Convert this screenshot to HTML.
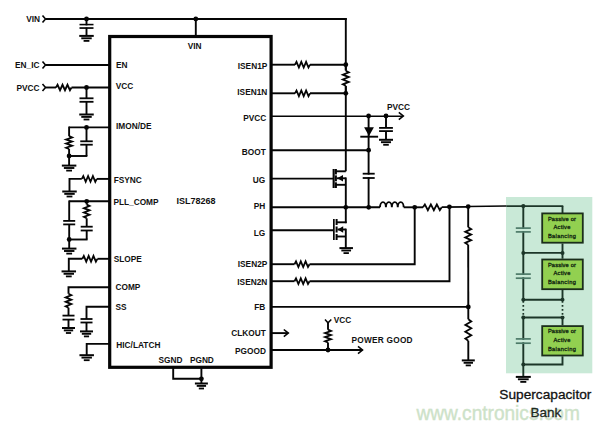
<!DOCTYPE html>
<html><head><meta charset="utf-8"><style>
html,body{margin:0;padding:0;background:#fff;}
body{width:600px;height:429px;overflow:hidden;}
svg{display:block;}
text{font-family:"Liberation Sans",sans-serif;}
</style></head><body>
<svg width="600" height="429" viewBox="0 0 600 429">
<rect width="600" height="429" fill="#fff"/>
<rect x="506" y="197" width="86.3" height="176.3" fill="#c9e9d7"/>
<rect x="109.7" y="36.5" width="161.4" height="330.8" fill="none" stroke="#050505" stroke-width="3.2"/>
<polyline points="42.5,15.4 45.5,19 42.5,22.6" fill="none" stroke="#050505" stroke-width="1.6" stroke-linejoin="miter" />
<line x1="45.5" y1="19" x2="346.75" y2="19" stroke="#050505" stroke-width="1.9" />
<circle cx="86.5" cy="19" r="2.4" fill="#050505"/>
<line x1="86.5" y1="19" x2="86.5" y2="35.9" stroke="#050505" stroke-width="1.9" />
<line x1="79.5" y1="24.7" x2="93.5" y2="24.7" stroke="#050505" stroke-width="1.8" />
<line x1="79.5" y1="28" x2="93.5" y2="28" stroke="#050505" stroke-width="1.8" />
<rect x="79" y="25.6" width="15" height="1.5" fill="#fff"/>
<line x1="79.25" y1="35.9" x2="93.75" y2="35.9" stroke="#050505" stroke-width="2.0" />
<line x1="81.28" y1="38.3" x2="91.72" y2="38.3" stroke="#050505" stroke-width="1.9" />
<line x1="83.6" y1="40.9" x2="89.4" y2="40.9" stroke="#050505" stroke-width="1.8" />
<circle cx="195.8" cy="19" r="2.4" fill="#050505"/>
<line x1="195.8" y1="19" x2="195.8" y2="36.3" stroke="#050505" stroke-width="1.9" />
<line x1="345.8" y1="18.05" x2="345.8" y2="171.3" stroke="#050505" stroke-width="1.9" />
<polyline points="42.5,61.4 45.5,65 42.5,68.6" fill="none" stroke="#050505" stroke-width="1.6" stroke-linejoin="miter" />
<line x1="45.5" y1="65" x2="109.5" y2="65" stroke="#050505" stroke-width="1.9" />
<polyline points="42.5,83.9 45.5,87.5 42.5,91.1" fill="none" stroke="#050505" stroke-width="1.6" stroke-linejoin="miter" />
<line x1="45.5" y1="87.5" x2="56" y2="87.5" stroke="#050505" stroke-width="1.9" />
<polyline points="56,87.5 57.55,84.78 60.03,90.22 62.51,84.78 64.99,90.22 67.47,84.78 69.95,90.22 71.5,87.5" fill="none" stroke="#050505" stroke-width="1.8" stroke-linejoin="miter" />
<line x1="71.5" y1="87.5" x2="109.5" y2="87.5" stroke="#050505" stroke-width="1.9" />
<circle cx="86.5" cy="87.5" r="2.4" fill="#050505"/>
<line x1="86.5" y1="87.5" x2="86.5" y2="98.3" stroke="#050505" stroke-width="1.9" />
<line x1="86.5" y1="101.8" x2="86.5" y2="114.5" stroke="#050505" stroke-width="1.9" />
<line x1="79.5" y1="98.3" x2="93.5" y2="98.3" stroke="#050505" stroke-width="1.8" />
<line x1="79.5" y1="101.8" x2="93.5" y2="101.8" stroke="#050505" stroke-width="1.8" />
<line x1="79.25" y1="114.5" x2="93.75" y2="114.5" stroke="#050505" stroke-width="2.0" />
<line x1="81.28" y1="116.9" x2="91.72" y2="116.9" stroke="#050505" stroke-width="1.9" />
<line x1="83.6" y1="119.5" x2="89.4" y2="119.5" stroke="#050505" stroke-width="1.8" />
<line x1="69.1" y1="127.4" x2="109.5" y2="127.4" stroke="#050505" stroke-width="1.9" />
<circle cx="86.5" cy="127.4" r="2.4" fill="#050505"/>
<line x1="69.1" y1="126.55" x2="69.1" y2="136.2" stroke="#050505" stroke-width="1.9" />
<polyline points="69.1,136.2 72.06,137.48 66.14,139.53 72.06,141.58 66.14,143.62 72.06,145.67 66.14,147.72 69.1,149" fill="none" stroke="#050505" stroke-width="1.8" stroke-linejoin="miter" />
<line x1="69.1" y1="149" x2="69.1" y2="165.6" stroke="#050505" stroke-width="1.9" />
<circle cx="69.1" cy="156" r="2.4" fill="#050505"/>
<line x1="86.5" y1="127.4" x2="86.5" y2="141.3" stroke="#050505" stroke-width="1.9" />
<line x1="80.25" y1="141.3" x2="92.75" y2="141.3" stroke="#050505" stroke-width="1.8" />
<line x1="80.25" y1="144.7" x2="92.75" y2="144.7" stroke="#050505" stroke-width="1.8" />
<line x1="86.5" y1="144.7" x2="86.5" y2="156" stroke="#050505" stroke-width="1.9" />
<line x1="69.1" y1="156" x2="87.35" y2="156" stroke="#050505" stroke-width="1.9" />
<line x1="61.85" y1="165.6" x2="76.35" y2="165.6" stroke="#050505" stroke-width="2.0" />
<line x1="63.88" y1="168" x2="74.32" y2="168" stroke="#050505" stroke-width="1.9" />
<line x1="66.2" y1="170.6" x2="72" y2="170.6" stroke="#050505" stroke-width="1.8" />
<line x1="96.8" y1="178.9" x2="109.5" y2="178.9" stroke="#050505" stroke-width="1.9" />
<polyline points="81.8,178.9 83.3,176.02 85.7,181.78 88.1,176.02 90.5,181.78 92.9,176.02 95.3,181.78 96.8,178.9" fill="none" stroke="#050505" stroke-width="1.8" stroke-linejoin="miter" />
<polyline points="81.8,178.9 69.5,178.9 69.5,191.5" fill="none" stroke="#050505" stroke-width="1.9" stroke-linejoin="miter" />
<line x1="62.25" y1="191.5" x2="76.75" y2="191.5" stroke="#050505" stroke-width="2.0" />
<line x1="64.28" y1="193.9" x2="74.72" y2="193.9" stroke="#050505" stroke-width="1.9" />
<line x1="66.6" y1="196.5" x2="72.4" y2="196.5" stroke="#050505" stroke-width="1.8" />
<line x1="69.2" y1="201.3" x2="109.5" y2="201.3" stroke="#050505" stroke-width="1.9" />
<circle cx="86.7" cy="201.3" r="2.4" fill="#050505"/>
<line x1="69.2" y1="200.45" x2="69.2" y2="220.9" stroke="#050505" stroke-width="1.9" />
<line x1="63.2" y1="220.9" x2="75.2" y2="220.9" stroke="#050505" stroke-width="1.8" />
<line x1="63.2" y1="224.4" x2="75.2" y2="224.4" stroke="#050505" stroke-width="1.8" />
<line x1="69.2" y1="224.4" x2="69.2" y2="248.6" stroke="#050505" stroke-width="1.9" />
<circle cx="69.2" cy="239.5" r="2.4" fill="#050505"/>
<line x1="86.7" y1="201.3" x2="86.7" y2="204.6" stroke="#050505" stroke-width="1.9" />
<polyline points="86.7,204.6 89.51,205.97 83.89,208.16 89.51,210.35 83.89,212.55 89.51,214.74 83.89,216.93 86.7,218.3" fill="none" stroke="#050505" stroke-width="1.8" stroke-linejoin="miter" />
<line x1="86.7" y1="218.3" x2="86.7" y2="226.7" stroke="#050505" stroke-width="1.9" />
<line x1="80.7" y1="226.7" x2="92.7" y2="226.7" stroke="#050505" stroke-width="1.8" />
<line x1="80.7" y1="230.5" x2="92.7" y2="230.5" stroke="#050505" stroke-width="1.8" />
<line x1="86.7" y1="230.5" x2="86.7" y2="239.5" stroke="#050505" stroke-width="1.9" />
<line x1="69.2" y1="239.5" x2="87.55" y2="239.5" stroke="#050505" stroke-width="1.9" />
<line x1="61.95" y1="248.6" x2="76.45" y2="248.6" stroke="#050505" stroke-width="2.0" />
<line x1="63.98" y1="251" x2="74.42" y2="251" stroke="#050505" stroke-width="1.9" />
<line x1="66.3" y1="253.6" x2="72.1" y2="253.6" stroke="#050505" stroke-width="1.8" />
<line x1="97.4" y1="258.8" x2="109.5" y2="258.8" stroke="#050505" stroke-width="1.9" />
<polyline points="82.3,258.8 83.81,255.92 86.23,261.68 88.64,255.92 91.06,261.68 93.47,255.92 95.89,261.68 97.4,258.8" fill="none" stroke="#050505" stroke-width="1.8" stroke-linejoin="miter" />
<polyline points="82.3,258.8 68.8,258.8 68.8,271.4" fill="none" stroke="#050505" stroke-width="1.9" stroke-linejoin="miter" />
<line x1="61.55" y1="271.4" x2="76.05" y2="271.4" stroke="#050505" stroke-width="2.0" />
<line x1="63.58" y1="273.8" x2="74.02" y2="273.8" stroke="#050505" stroke-width="1.9" />
<line x1="65.9" y1="276.4" x2="71.7" y2="276.4" stroke="#050505" stroke-width="1.8" />
<polyline points="109.5,287.3 68.5,287.3 68.5,293.8" fill="none" stroke="#050505" stroke-width="1.9" stroke-linejoin="miter" />
<polyline points="68.5,293.8 71.31,295.19 65.69,297.41 71.31,299.64 65.69,301.86 71.31,304.09 65.69,306.31 68.5,307.7" fill="none" stroke="#050505" stroke-width="1.8" stroke-linejoin="miter" />
<line x1="68.5" y1="307.7" x2="68.5" y2="315.6" stroke="#050505" stroke-width="1.9" />
<line x1="62.5" y1="315.6" x2="74.5" y2="315.6" stroke="#050505" stroke-width="1.8" />
<line x1="62.5" y1="319.6" x2="74.5" y2="319.6" stroke="#050505" stroke-width="1.8" />
<line x1="68.5" y1="319.6" x2="68.5" y2="328" stroke="#050505" stroke-width="1.9" />
<line x1="62" y1="328" x2="75" y2="328" stroke="#050505" stroke-width="2.0" />
<line x1="63.82" y1="330.4" x2="73.18" y2="330.4" stroke="#050505" stroke-width="1.9" />
<line x1="65.9" y1="333" x2="71.1" y2="333" stroke="#050505" stroke-width="1.8" />
<polyline points="109.5,306.7 86.5,306.7 86.5,319" fill="none" stroke="#050505" stroke-width="1.9" stroke-linejoin="miter" />
<line x1="80.5" y1="319" x2="92.5" y2="319" stroke="#050505" stroke-width="1.8" />
<line x1="80.5" y1="322.5" x2="92.5" y2="322.5" stroke="#050505" stroke-width="1.8" />
<line x1="86.5" y1="322.5" x2="86.5" y2="331.4" stroke="#050505" stroke-width="1.9" />
<line x1="80" y1="331.4" x2="93" y2="331.4" stroke="#050505" stroke-width="2.0" />
<line x1="81.82" y1="333.8" x2="91.18" y2="333.8" stroke="#050505" stroke-width="1.9" />
<line x1="83.9" y1="336.4" x2="89.1" y2="336.4" stroke="#050505" stroke-width="1.8" />
<polyline points="109.5,343.9 86.7,343.9 86.7,355.2" fill="none" stroke="#050505" stroke-width="1.9" stroke-linejoin="miter" />
<line x1="79.45" y1="355.2" x2="93.95" y2="355.2" stroke="#050505" stroke-width="2.0" />
<line x1="81.48" y1="357.6" x2="91.92" y2="357.6" stroke="#050505" stroke-width="1.9" />
<line x1="83.8" y1="360.2" x2="89.6" y2="360.2" stroke="#050505" stroke-width="1.8" />
<polyline points="173.2,367 173.2,378.8 201.4,378.8" fill="none" stroke="#050505" stroke-width="1.9" stroke-linejoin="miter" />
<line x1="201.4" y1="367" x2="201.4" y2="383.5" stroke="#050505" stroke-width="1.9" />
<circle cx="201.4" cy="378.8" r="2.4" fill="#050505"/>
<line x1="194.9" y1="383.5" x2="207.9" y2="383.5" stroke="#050505" stroke-width="2.0" />
<line x1="196.72" y1="385.9" x2="206.08" y2="385.9" stroke="#050505" stroke-width="1.9" />
<line x1="198.8" y1="388.5" x2="204" y2="388.5" stroke="#050505" stroke-width="1.8" />
<line x1="271.3" y1="64.7" x2="295" y2="64.7" stroke="#050505" stroke-width="1.9" />
<polyline points="295,64.7 296.5,61.9 298.9,67.5 301.3,61.9 303.7,67.5 306.1,61.9 308.5,67.5 310,64.7" fill="none" stroke="#050505" stroke-width="1.8" stroke-linejoin="miter" />
<line x1="310" y1="64.7" x2="345.8" y2="64.7" stroke="#050505" stroke-width="1.9" />
<circle cx="345.8" cy="64.7" r="2.4" fill="#050505"/>
<line x1="271.3" y1="93.3" x2="295" y2="93.3" stroke="#050505" stroke-width="1.9" />
<polyline points="295,93.3 296.5,90.5 298.9,96.1 301.3,90.5 303.7,96.1 306.1,90.5 308.5,96.1 310,93.3" fill="none" stroke="#050505" stroke-width="1.8" stroke-linejoin="miter" />
<line x1="310" y1="93.3" x2="345.8" y2="93.3" stroke="#050505" stroke-width="1.9" />
<circle cx="345.8" cy="93.3" r="2.4" fill="#050505"/>
<rect x="340" y="70" width="12" height="16" fill="#fff"/>
<line x1="345.8" y1="64.7" x2="345.8" y2="70.8" stroke="#050505" stroke-width="1.9" />
<polyline points="345.8,70.8 348.76,72.3 342.84,74.7 348.76,77.1 342.84,79.5 348.76,81.9 342.84,84.3 345.8,85.8" fill="none" stroke="#050505" stroke-width="1.8" stroke-linejoin="miter" />
<line x1="345.8" y1="85.8" x2="345.8" y2="93.3" stroke="#050505" stroke-width="1.9" />
<line x1="271.3" y1="116.3" x2="403.3" y2="116.3" stroke="#050505" stroke-width="1.5" />
<polyline points="398.8,112.4 403.3,116 398.8,119.6" fill="none" stroke="#050505" stroke-width="1.6" stroke-linejoin="miter" />
<circle cx="368.6" cy="116" r="2.4" fill="#050505"/>
<circle cx="386" cy="116" r="2.4" fill="#050505"/>
<polygon points="364.1,127.2 373.9,127.2 369,136" fill="#050505"/>
<line x1="368.6" y1="116" x2="368.6" y2="207.5" stroke="#050505" stroke-width="1.9" />
<line x1="360.3" y1="136.7" x2="378.1" y2="136.7" stroke="#050505" stroke-width="1.9" />
<line x1="386" y1="116" x2="386" y2="127.9" stroke="#050505" stroke-width="1.9" />
<line x1="379.1" y1="127.9" x2="392.9" y2="127.9" stroke="#050505" stroke-width="1.8" />
<line x1="379.1" y1="131.1" x2="392.9" y2="131.1" stroke="#050505" stroke-width="1.8" />
<line x1="386" y1="131.1" x2="386" y2="139.8" stroke="#050505" stroke-width="1.9" />
<line x1="379" y1="139.8" x2="393" y2="139.8" stroke="#050505" stroke-width="2.0" />
<line x1="380.96" y1="142.2" x2="391.04" y2="142.2" stroke="#050505" stroke-width="1.9" />
<line x1="383.2" y1="144.8" x2="388.8" y2="144.8" stroke="#050505" stroke-width="1.8" />
<line x1="271.3" y1="150.2" x2="368.6" y2="150.2" stroke="#050505" stroke-width="1.9" />
<circle cx="368.6" cy="150.2" r="2.4" fill="#050505"/>
<rect x="362" y="174.6" width="14" height="2.6" fill="#fff"/>
<line x1="362.7" y1="173.7" x2="374.7" y2="173.7" stroke="#050505" stroke-width="1.8" />
<line x1="362.7" y1="178" x2="374.7" y2="178" stroke="#050505" stroke-width="1.8" />
<line x1="271.3" y1="178.6" x2="333.5" y2="178.6" stroke="#050505" stroke-width="1.9" />
<rect x="332.6" y="169" width="2.1" height="19" fill="#050505"/>
<rect x="334.8" y="169" width="2.1" height="5.4" fill="#050505"/>
<rect x="334.8" y="175.4" width="2.1" height="5.9" fill="#050505"/>
<rect x="334.8" y="182.3" width="2.1" height="5.7" fill="#050505"/>
<polyline points="345.8,171.3 336,171.3" fill="none" stroke="#050505" stroke-width="1.9" stroke-linejoin="miter" />
<line x1="336.8" y1="178.3" x2="345.8" y2="178.3" stroke="#050505" stroke-width="1.9" />
<polygon points="337.2,178.3 343,175 343,181.6" fill="#050505"/>
<polyline points="336,184.8 345.8,184.8" fill="none" stroke="#050505" stroke-width="1.9" stroke-linejoin="miter" />
<line x1="345.8" y1="177.45" x2="345.8" y2="207.5" stroke="#050505" stroke-width="1.9" />
<line x1="271.3" y1="207.3" x2="380" y2="207.3" stroke="#050505" stroke-width="1.9" />
<circle cx="345.8" cy="207.3" r="2.4" fill="#050505"/>
<circle cx="368.7" cy="207.3" r="2.4" fill="#050505"/>
<path d="M380,207.3 a2.96,5.2 0 0 1 5.92,0 a2.96,5.2 0 0 1 5.92,0 a2.96,5.2 0 0 1 5.92,0 a2.96,5.2 0 0 1 5.92,0" fill="none" stroke="#050505" stroke-width="1.9"/>
<line x1="403.7" y1="207.3" x2="423" y2="207.3" stroke="#050505" stroke-width="1.9" />
<polyline points="423,207.3 424.87,204.42 427.86,210.18 430.85,204.42 433.85,210.18 436.84,204.42 439.83,210.18 441.7,207.3" fill="none" stroke="#050505" stroke-width="1.8" stroke-linejoin="miter" />
<line x1="441.7" y1="207.1" x2="468.2" y2="206.9" stroke="#050505" stroke-width="1.9" />
<line x1="468.2" y1="206.4" x2="506.3" y2="206.1" stroke="#050505" stroke-width="1.5" />
<circle cx="414.7" cy="207.3" r="2.4" fill="#050505"/>
<circle cx="449.4" cy="206.8" r="2.4" fill="#050505"/>
<circle cx="468.2" cy="206.6" r="2.4" fill="#050505"/>
<line x1="271.3" y1="230.3" x2="333.4" y2="230.3" stroke="#050505" stroke-width="1.9" />
<rect x="333" y="219" width="1.7" height="21" fill="#050505"/>
<rect x="335.6" y="219" width="2" height="6" fill="#050505"/>
<rect x="335.6" y="226.5" width="2" height="6" fill="#050505"/>
<rect x="335.6" y="234" width="2" height="6" fill="#050505"/>
<line x1="336" y1="222.3" x2="346.6" y2="222.3" stroke="#050505" stroke-width="1.9" />
<line x1="345.8" y1="207.3" x2="345.8" y2="223.15" stroke="#050505" stroke-width="1.9" />
<line x1="337.5" y1="229.5" x2="345.8" y2="229.5" stroke="#050505" stroke-width="1.9" />
<polygon points="337.6,229.5 343.2,226.3 343.2,232.7" fill="#050505"/>
<line x1="336" y1="236.5" x2="345.8" y2="236.5" stroke="#050505" stroke-width="1.9" />
<line x1="345.8" y1="228.65" x2="345.8" y2="248.1" stroke="#050505" stroke-width="1.9" />
<line x1="339.45" y1="248.1" x2="352.95" y2="248.1" stroke="#050505" stroke-width="2.0" />
<line x1="341.34" y1="250.5" x2="351.06" y2="250.5" stroke="#050505" stroke-width="1.9" />
<line x1="343.5" y1="253.1" x2="348.9" y2="253.1" stroke="#050505" stroke-width="1.8" />
<line x1="271.3" y1="264.2" x2="294.5" y2="264.2" stroke="#050505" stroke-width="1.9" />
<polyline points="294.5,264.2 296,261.4 298.4,267 300.8,261.4 303.2,267 305.6,261.4 308,267 309.5,264.2" fill="none" stroke="#050505" stroke-width="1.8" stroke-linejoin="miter" />
<polyline points="309.5,264.2 414.7,264.2 414.7,207.3" fill="none" stroke="#050505" stroke-width="1.9" stroke-linejoin="miter" />
<line x1="271.3" y1="281.2" x2="294.5" y2="281.2" stroke="#050505" stroke-width="1.9" />
<polyline points="294.5,281.2 296,278.4 298.4,284 300.8,278.4 303.2,284 305.6,278.4 308,284 309.5,281.2" fill="none" stroke="#050505" stroke-width="1.8" stroke-linejoin="miter" />
<polyline points="309.5,281.2 449.5,281.2 449.5,206.8" fill="none" stroke="#050505" stroke-width="1.9" stroke-linejoin="miter" />
<line x1="271.3" y1="306.9" x2="468.3" y2="306.9" stroke="#050505" stroke-width="1.9" />
<circle cx="468.3" cy="306.9" r="2.4" fill="#050505"/>
<line x1="468.2" y1="206.6" x2="468.2" y2="227.3" stroke="#050505" stroke-width="1.9" />
<polyline points="468.2,227.3 471.16,229.04 465.24,231.82 471.16,234.61 465.24,237.39 471.16,240.18 465.24,242.96 468.2,244.7" fill="none" stroke="#050505" stroke-width="1.8" stroke-linejoin="miter" />
<line x1="468.2" y1="244.7" x2="468.3" y2="306.9" stroke="#050505" stroke-width="1.9" />
<line x1="468.3" y1="306.9" x2="468.3" y2="319.3" stroke="#050505" stroke-width="1.9" />
<polyline points="468.3,319.3 471.26,321.45 465.34,324.89 471.26,328.33 465.34,331.77 471.26,335.21 465.34,338.65 468.3,340.8" fill="none" stroke="#050505" stroke-width="1.8" stroke-linejoin="miter" />
<line x1="468.3" y1="340.8" x2="468.3" y2="360.4" stroke="#050505" stroke-width="1.9" />
<line x1="461.8" y1="360.4" x2="474.8" y2="360.4" stroke="#050505" stroke-width="2.0" />
<line x1="463.62" y1="362.8" x2="472.98" y2="362.8" stroke="#050505" stroke-width="1.9" />
<line x1="465.7" y1="365.4" x2="470.9" y2="365.4" stroke="#050505" stroke-width="1.8" />
<line x1="271.3" y1="333.1" x2="288.3" y2="333.1" stroke="#050505" stroke-width="1.9" />
<polyline points="283.8,329.5 288.3,333.1 283.8,336.7" fill="none" stroke="#050505" stroke-width="1.6" stroke-linejoin="miter" />
<line x1="271.3" y1="350" x2="362.5" y2="350" stroke="#050505" stroke-width="1.9" />
<polyline points="358,346.4 362.5,350 358,353.6" fill="none" stroke="#050505" stroke-width="1.6" stroke-linejoin="miter" />
<circle cx="328" cy="350" r="2.4" fill="#050505"/>
<line x1="328" y1="350" x2="328" y2="342.5" stroke="#050505" stroke-width="1.9" />
<polyline points="328,329.7 330.96,330.98 325.04,333.03 330.96,335.08 325.04,337.12 330.96,339.17 325.04,341.22 328,342.5" fill="none" stroke="#050505" stroke-width="1.8" stroke-linejoin="miter" />
<line x1="328" y1="329.7" x2="328" y2="322.5" stroke="#050505" stroke-width="1.9" />
<polyline points="325,319.5 328,322.8 331.3,319.5" fill="none" stroke="#050505" stroke-width="1.5" stroke-linejoin="miter" />
<line x1="506.3" y1="206.1" x2="563.25" y2="206.1" stroke="#1c3628" stroke-width="1.6" />
<polyline points="523.3,206.1 523.3,364.5 562.5,364.5 562.5,356.3" fill="none" stroke="#1c3628" stroke-width="1.9" stroke-linejoin="miter" />
<circle cx="523.3" cy="206.1" r="2.1" fill="#1c3628"/>
<line x1="562.5" y1="206.1" x2="562.5" y2="213.5" stroke="#1c3628" stroke-width="1.9" />
<rect x="514" y="229" width="19" height="2" fill="#c9e9d7"/>
<line x1="515.8" y1="228.1" x2="530.8" y2="228.1" stroke="#4d7a68" stroke-width="1.7" />
<line x1="515.8" y1="231.9" x2="530.8" y2="231.9" stroke="#4d7a68" stroke-width="1.7" />
<rect x="514" y="275" width="19" height="2.3" fill="#c9e9d7"/>
<line x1="515.8" y1="274.1" x2="530.8" y2="274.1" stroke="#4d7a68" stroke-width="1.7" />
<line x1="515.8" y1="278.2" x2="530.8" y2="278.2" stroke="#4d7a68" stroke-width="1.7" />
<rect x="514" y="339.8" width="19" height="2.5" fill="#c9e9d7"/>
<line x1="515.8" y1="338.9" x2="530.8" y2="338.9" stroke="#4d7a68" stroke-width="1.7" />
<line x1="515.8" y1="343.2" x2="530.8" y2="343.2" stroke="#4d7a68" stroke-width="1.7" />
<line x1="562.5" y1="243.5" x2="562.5" y2="258.7" stroke="#1c3628" stroke-width="1.9" />
<line x1="562.5" y1="290" x2="562.5" y2="299.7" stroke="#1c3628" stroke-width="1.9" />
<line x1="562.5" y1="317.5" x2="562.5" y2="325.3" stroke="#1c3628" stroke-width="1.9" />
<line x1="523.3" y1="252.9" x2="562.5" y2="252.9" stroke="#1c3628" stroke-width="1.9" />
<circle cx="523.3" cy="252.9" r="2.0" fill="#1c3628"/>
<circle cx="562.5" cy="252.9" r="2.0" fill="#1c3628"/>
<line x1="523.3" y1="299.7" x2="562.5" y2="299.7" stroke="#1c3628" stroke-width="1.9" />
<circle cx="523.3" cy="299.7" r="2.0" fill="#1c3628"/>
<circle cx="562.5" cy="299.7" r="2.0" fill="#1c3628"/>
<line x1="523.3" y1="317.5" x2="562.5" y2="317.5" stroke="#1c3628" stroke-width="1.9" />
<circle cx="523.3" cy="317.5" r="2.0" fill="#1c3628"/>
<circle cx="562.5" cy="317.5" r="2.0" fill="#1c3628"/>
<circle cx="523.3" cy="364.5" r="2.0" fill="#1c3628"/>
<rect x="520" y="301.5" width="7" height="14" fill="#c9e9d7"/>
<rect x="559" y="301.5" width="7" height="14" fill="#c9e9d7"/>
<line x1="523.3" y1="301" x2="523.3" y2="316" stroke="#1c3628" stroke-width="1.7" stroke-dasharray="1.7 2.3"/>
<line x1="562.5" y1="301" x2="562.5" y2="316" stroke="#1c3628" stroke-width="1.7" stroke-dasharray="1.7 2.3"/>
<rect x="542.2" y="213.4" width="40.6" height="29.3" fill="#92d050" stroke="#1b2e1b" stroke-width="1.8"/>
<text x="561.9" y="220.55" font-size="5.7" text-anchor="middle" font-weight="normal" fill="#0f240f" font-family="Liberation Sans" textLength="28" lengthAdjust="spacing" stroke="#0f240f" stroke-width="0.3">Passive or</text>
<text x="561.9" y="229.15" font-size="5.7" text-anchor="middle" font-weight="normal" fill="#0f240f" font-family="Liberation Sans" textLength="16.8" lengthAdjust="spacing" stroke="#0f240f" stroke-width="0.3">Active</text>
<text x="561.9" y="237.95" font-size="5.7" text-anchor="middle" font-weight="normal" fill="#0f240f" font-family="Liberation Sans" textLength="28" lengthAdjust="spacing" stroke="#0f240f" stroke-width="0.3">Balancing</text>
<rect x="542.2" y="259.5" width="40.6" height="29.7" fill="#92d050" stroke="#1b2e1b" stroke-width="1.8"/>
<text x="561.9" y="266.85" font-size="5.7" text-anchor="middle" font-weight="normal" fill="#0f240f" font-family="Liberation Sans" textLength="28" lengthAdjust="spacing" stroke="#0f240f" stroke-width="0.3">Passive or</text>
<text x="561.9" y="275.45" font-size="5.7" text-anchor="middle" font-weight="normal" fill="#0f240f" font-family="Liberation Sans" textLength="16.8" lengthAdjust="spacing" stroke="#0f240f" stroke-width="0.3">Active</text>
<text x="561.9" y="284.25" font-size="5.7" text-anchor="middle" font-weight="normal" fill="#0f240f" font-family="Liberation Sans" textLength="28" lengthAdjust="spacing" stroke="#0f240f" stroke-width="0.3">Balancing</text>
<rect x="542.2" y="326.1" width="40.6" height="29.4" fill="#92d050" stroke="#1b2e1b" stroke-width="1.8"/>
<text x="561.9" y="333.3" font-size="5.7" text-anchor="middle" font-weight="normal" fill="#0f240f" font-family="Liberation Sans" textLength="28" lengthAdjust="spacing" stroke="#0f240f" stroke-width="0.3">Passive or</text>
<text x="561.9" y="341.9" font-size="5.7" text-anchor="middle" font-weight="normal" fill="#0f240f" font-family="Liberation Sans" textLength="16.8" lengthAdjust="spacing" stroke="#0f240f" stroke-width="0.3">Active</text>
<text x="561.9" y="350.7" font-size="5.7" text-anchor="middle" font-weight="normal" fill="#0f240f" font-family="Liberation Sans" textLength="28" lengthAdjust="spacing" stroke="#0f240f" stroke-width="0.3">Balancing</text>
<line x1="523.3" y1="364.5" x2="523.3" y2="376.9" stroke="#1c3628" stroke-width="1.9" />
<line x1="515.8" y1="376.9" x2="530.8" y2="376.9" stroke="#050505" stroke-width="2.0" />
<line x1="517.9" y1="379.3" x2="528.7" y2="379.3" stroke="#050505" stroke-width="1.9" />
<line x1="520.3" y1="381.9" x2="526.3" y2="381.9" stroke="#050505" stroke-width="1.8" />
<text x="40" y="21.8" font-size="8.3" text-anchor="end" font-weight="bold" fill="#111" font-family="Liberation Sans" >VIN</text>
<text x="39.5" y="68.2" font-size="8.3" text-anchor="end" font-weight="bold" fill="#111" font-family="Liberation Sans" >EN_IC</text>
<text x="39.5" y="90.6" font-size="8.3" text-anchor="end" font-weight="bold" fill="#111" font-family="Liberation Sans" >PVCC</text>
<text x="116" y="67.5" font-size="8.3" text-anchor="start" font-weight="bold" fill="#111" font-family="Liberation Sans" >EN</text>
<text x="115.7" y="89.1" font-size="8.3" text-anchor="start" font-weight="bold" fill="#111" font-family="Liberation Sans" >VCC</text>
<text x="116" y="128.9" font-size="8.3" text-anchor="start" font-weight="bold" fill="#111" font-family="Liberation Sans" >IMON/DE</text>
<text x="113.7" y="182.5" font-size="8.3" text-anchor="start" font-weight="bold" fill="#111" font-family="Liberation Sans" >FSYNC</text>
<text x="113.4" y="205.1" font-size="8.3" text-anchor="start" font-weight="bold" fill="#111" font-family="Liberation Sans" >PLL_COMP</text>
<text x="113.7" y="262.1" font-size="8.3" text-anchor="start" font-weight="bold" fill="#111" font-family="Liberation Sans" >SLOPE</text>
<text x="115.5" y="289.6" font-size="8.3" text-anchor="start" font-weight="bold" fill="#111" font-family="Liberation Sans" >COMP</text>
<text x="115.5" y="310.1" font-size="8.3" text-anchor="start" font-weight="bold" fill="#111" font-family="Liberation Sans" >SS</text>
<text x="116.3" y="348.4" font-size="8.3" text-anchor="start" font-weight="bold" fill="#111" font-family="Liberation Sans" >HIC/LATCH</text>
<text x="194.7" y="49.3" font-size="8.3" text-anchor="middle" font-weight="bold" fill="#111" font-family="Liberation Sans" >VIN</text>
<text x="176.6" y="204.1" font-size="9.0" text-anchor="start" font-weight="bold" fill="#111" font-family="Liberation Sans" >ISL78268</text>
<text x="267.3" y="68.8" font-size="8.3" text-anchor="end" font-weight="bold" fill="#111" font-family="Liberation Sans" >ISEN1P</text>
<text x="267.3" y="94.8" font-size="8.3" text-anchor="end" font-weight="bold" fill="#111" font-family="Liberation Sans" >ISEN1N</text>
<text x="266.3" y="121.3" font-size="8.3" text-anchor="end" font-weight="bold" fill="#111" font-family="Liberation Sans" >PVCC</text>
<text x="265.8" y="154.6" font-size="8.3" text-anchor="end" font-weight="bold" fill="#111" font-family="Liberation Sans" >BOOT</text>
<text x="265.3" y="182.6" font-size="8.3" text-anchor="end" font-weight="bold" fill="#111" font-family="Liberation Sans" >UG</text>
<text x="265.3" y="209.3" font-size="8.3" text-anchor="end" font-weight="bold" fill="#111" font-family="Liberation Sans" >PH</text>
<text x="265.3" y="235.8" font-size="8.3" text-anchor="end" font-weight="bold" fill="#111" font-family="Liberation Sans" >LG</text>
<text x="267.3" y="266.6" font-size="8.3" text-anchor="end" font-weight="bold" fill="#111" font-family="Liberation Sans" >ISEN2P</text>
<text x="267.3" y="285.1" font-size="8.3" text-anchor="end" font-weight="bold" fill="#111" font-family="Liberation Sans" >ISEN2N</text>
<text x="265.3" y="310.1" font-size="8.3" text-anchor="end" font-weight="bold" fill="#111" font-family="Liberation Sans" >FB</text>
<text x="265.9" y="335.9" font-size="8.3" text-anchor="end" font-weight="bold" fill="#111" font-family="Liberation Sans" >CLKOUT</text>
<text x="265.9" y="354.3" font-size="8.3" text-anchor="end" font-weight="bold" fill="#111" font-family="Liberation Sans" >PGOOD</text>
<text x="158.5" y="362.5" font-size="8.3" text-anchor="start" font-weight="bold" fill="#111" font-family="Liberation Sans" >SGND</text>
<text x="189.9" y="362.5" font-size="8.3" text-anchor="start" font-weight="bold" fill="#111" font-family="Liberation Sans" >PGND</text>
<text x="386.9" y="109.6" font-size="8.3" text-anchor="start" font-weight="bold" fill="#111" font-family="Liberation Sans" >PVCC</text>
<text x="333.8" y="323.4" font-size="8.3" text-anchor="start" font-weight="bold" fill="#111" font-family="Liberation Sans" >VCC</text>
<text x="351.6" y="342.9" font-size="8.3" text-anchor="start" font-weight="bold" fill="#111" font-family="Liberation Sans" textLength="61" lengthAdjust="spacing">POWER GOOD</text>
<text x="416.5" y="420.3" font-size="20.5" text-anchor="start" font-weight="normal" fill="#cde2c8" font-family="Liberation Sans" textLength="163.3" lengthAdjust="spacingAndGlyphs" stroke="#cde2c8" stroke-width="0.4">www.cntronics.com</text>
<text x="499.3" y="399" font-size="13.7" text-anchor="start" font-weight="normal" fill="#111" font-family="Liberation Sans" stroke="#111" stroke-width="0.3">Supercapacitor</text>
<text x="530.5" y="416.5" font-size="13.5" text-anchor="start" font-weight="normal" fill="#1e2a1e" font-family="Liberation Sans" stroke="#1e2a1e" stroke-width="0.3">Bank</text>
</svg>
</body></html>
